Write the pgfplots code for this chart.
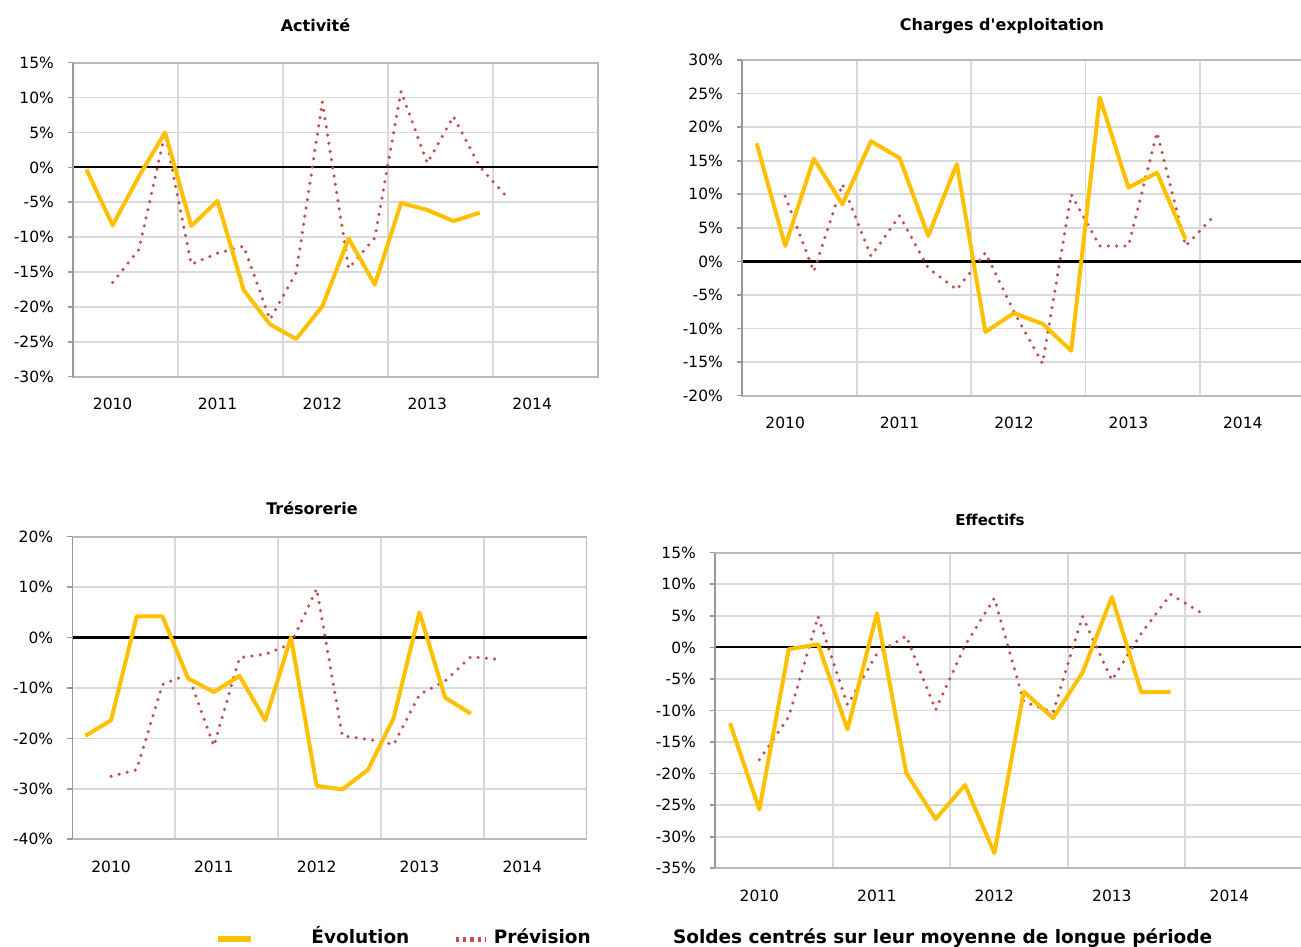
\documentclass[border=0pt]{standalone}
\usepackage{pgfplots}
\pgfplotsset{compat=1.18}
\usepackage{fontspec}
\setmainfont{DejaVu Sans}
\newfontfamily\plainfont{DejaVu Sans}[Ligatures=TeXOff]
\definecolor{evoc}{HTML}{FFC000}
\definecolor{prevc}{HTML}{C0504D}
\definecolor{gridc}{HTML}{D9D9D9}
\definecolor{axc}{HTML}{999999}
\pgfplotsset{
 panel/.style={
  scale only axis, anchor=south west,
  xmin=-0.5, xmax=19.5,
  xtick={1,5,9,13,17}, xticklabels={2010,2011,2012,2013,2014},
  minor xtick={3.5,7.5,11.5,15.5}, xminorgrids=true,
  ymajorgrids=true,
  major grid style={gridc, line width=0.85pt},
  minor grid style={gridc, line width=0.85pt},
  axis line style={draw=black!27, line width=0.9pt},
  xtick style={draw=none}, minor tick length=0pt,
  ytick style={draw=axc, line width=0.8pt},
  tick align=outside, major tick length=2.5pt,
  ytick pos=left,
  tick label style={font=\fontsize{7.75}{9}\selectfont},
  yticklabel style={anchor=east, inner sep=0pt, xshift=-7pt},
  xticklabel style={anchor=north, inner sep=0pt, yshift=-8pt},
  extra y ticks={0}, extra y tick labels={},
  extra tick style={grid=major, major grid style={black, line width=1.1pt}, tick style={draw=none}},
  after end axis/.code={\draw[axc, line width=0.9pt] (rel axis cs:0,0) -- (rel axis cs:0,1);},
  clip=false,
 },
 evoline/.style={evoc, line width=2pt, line join=round, mark=none},
 prevline/.style={prevc, line width=1.75pt, line cap=round, dash pattern=on 0pt off 4.15pt, mark=none},
}
\begin{document}
\begin{tikzpicture}
\useasboundingbox (0,0) rectangle (650.5pt,473.5pt);
% Activite
\begin{axis}[panel, at={(36.65pt,285.15pt)}, width=262.2pt, height=157pt,
  ymin=-30, ymax=15, ytick={-30,-25,...,15},
  yticklabels={-30\%,-25\%,-20\%,-15\%,-10\%,-5\%,0\%,5\%,10\%,15\%}]
\addplot[prevline] coordinates {(1,-16.5)(2,-11.8)(3,4.9)(4,-13.9)(5,-12.3)(6,-11.3)(7,-21.8)(8,-15.1)(9,9.4)(10,-14.5)(11,-10.1)(12,10.9)(13,0.6)(14,7.3)(15,0.1)(16,-4.1)};
\addplot[evoline] coordinates {(0,-0.3)(1,-8.3)(2,-1.3)(3,5.0)(4,-8.4)(5,-4.8)(6,-17.6)(7,-22.5)(8,-24.6)(9,-19.9)(10,-10.2)(11,-16.8)(12,-5.1)(13,-6.1)(14,-7.7)(15,-6.5)};
\end{axis}
% Charges
\begin{axis}[panel, at={(371.15pt,275.65pt)}, width=286pt, height=167.85pt,
  ymin=-20, ymax=30, ytick={-20,-15,...,30},
  yticklabels={-20\%,-15\%,-10\%,-5\%,0\%,5\%,10\%,15\%,20\%,25\%,30\%}]
\addplot[prevline] coordinates {(1,9.7)(2,-1.5)(3,11.5)(4,0.8)(5,6.8)(6,-1.0)(7,-4.2)(8,1.3)(9,-7.5)(10,-15.2)(11,10.0)(12,2.3)(13,2.3)(14,19.2)(15,2.3)(16,6.8)};
\addplot[evoline] coordinates {(0,17.6)(1,2.3)(2,15.3)(3,8.5)(4,17.9)(5,15.4)(6,3.8)(7,14.5)(8,-10.5)(9,-7.7)(10,-9.3)(11,-13.3)(12,24.4)(13,11.0)(14,13.2)(15,3.3)};
\end{axis}
% Tresorerie
\begin{axis}[panel, at={(36.25pt,53.85pt)}, width=257pt, height=151.3pt,
  ymin=-40, ymax=20, ytick={-40,-30,...,20},
  yticklabels={-40\%,-30\%,-20\%,-10\%,0\%,10\%,20\%}]
\addplot[prevline] coordinates {(1,-27.5)(2,-26.2)(3,-9.3)(4,-7.3)(5,-21.5)(6,-4.0)(7,-3.3)(8,-1.3)(9,9.7)(10,-19.5)(11,-20.2)(12,-21.2)(13,-11.3)(14,-8.6)(15,-3.8)(16,-4.3)};
\addplot[evoline] coordinates {(0,-19.5)(1,-16.4)(2,4.2)(3,4.2)(4,-8.1)(5,-10.8)(6,-7.6)(7,-16.4)(8,0)(9,-29.4)(10,-30.1)(11,-26.2)(12,-15.9)(13,5.0)(14,-11.9)(15,-15.1)};
\end{axis}
% Effectifs
\begin{axis}[panel, at={(357.65pt,39.35pt)}, width=293.75pt, height=157.8pt,
  ymin=-35, ymax=15, ytick={-35,-30,...,15},
  yticklabels={-35\%,-30\%,-25\%,-20\%,-15\%,-10\%,-5\%,0\%,5\%,10\%,15\%}]
\addplot[prevline] coordinates {(1,-17.8)(2,-11.0)(3,4.9)(4,-9.1)(5,-1.0)(6,1.8)(7,-9.9)(8,0.3)(9,7.8)(10,-8.6)(11,-10.3)(12,4.9)(13,-5.2)(14,2.2)(15,8.4)(16,5.6)};
\addplot[evoline] coordinates {(0,-12.0)(1,-25.7)(2,-0.3)(3,0.5)(4,-13.0)(5,5.4)(6,-19.9)(7,-27.2)(8,-21.8)(9,-32.6)(10,-7.0)(11,-11.2)(12,-4.0)(13,8.0)(14,-7.1)(15,-7.1)};
\end{axis}
% titles
\node[font=\bfseries\fontsize{8}{9}\selectfont, anchor=base] at (157.75pt,457.75pt) {Activité};
\node[font=\plainfont\bfseries\fontsize{8}{9}\selectfont, anchor=base] at (501pt,458pt) {Charges d'exploitation};
\node[font=\bfseries\fontsize{8}{9}\selectfont, anchor=base] at (156pt,216pt) {Trésorerie};
\node[font=\bfseries\fontsize{7.5}{9}\selectfont, anchor=base] at (495pt,210.5pt) {Effectifs};
% legend
\draw[evoc, line width=3pt] (108.75pt,4pt) -- (125.3pt,4pt);
\node[font=\bfseries\fontsize{9.25}{11}\selectfont, anchor=base west, inner sep=0pt] at (155.5pt,1.5pt) {Évolution};
\draw[prevc, line width=2.5pt, dash pattern=on 1.6pt off 2pt] (228pt,3.5pt) -- (242.5pt,3.5pt);
\node[font=\bfseries\fontsize{9.25}{11}\selectfont, anchor=base west, inner sep=0pt] at (246.75pt,1.5pt) {Prévision};
\node[font=\bfseries\fontsize{9.25}{11}\selectfont, anchor=base west, inner sep=0pt] at (336.3pt,1.5pt) {Soldes centrés sur leur moyenne de longue période};
\end{tikzpicture}
\end{document}
